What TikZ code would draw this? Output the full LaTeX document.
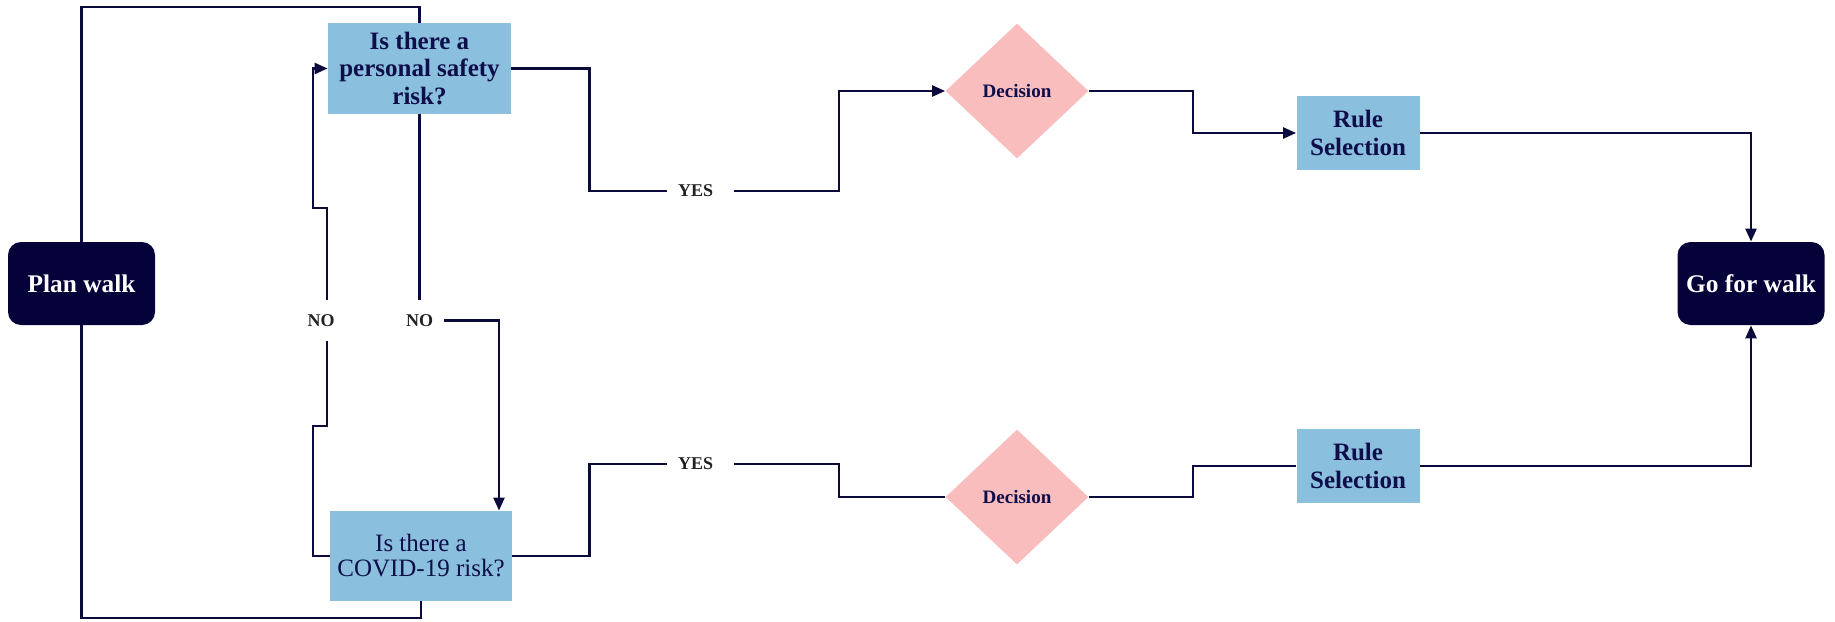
\documentclass[tikz,border=0pt]{standalone}
\usepackage{fontspec}
\setmainfont{Liberation Serif}
\usetikzlibrary{arrows.meta,shapes.geometric}

\definecolor{navy}{HTML}{05023A}
\definecolor{wirecol}{HTML}{0B0B3B}
\definecolor{boxblue}{HTML}{8ABFDD}
\definecolor{rosy}{HTML}{F9BDBD}
\definecolor{inknavy}{HTML}{0E0E4A}
\definecolor{flagink}{HTML}{222222}

\begin{document}
\begin{tikzpicture}[x=0.5pt,y=-0.5pt,
  wire/.style={draw=wirecol, line width=1.25pt},
  tip/.style={-{Triangle[length=6.5pt,width=5.5pt]}},
  terminal/.style={fill=navy, rounded corners=6.5pt, text=white,
    font=\fontsize{12.7}{14}\selectfont\bfseries,
    minimum width=73.5pt, minimum height=41.5pt, inner sep=0pt},
  question/.style={fill=boxblue, text=inknavy, align=center, inner sep=0pt},
  decision/.style={diamond, fill=rosy, text=inknavy, inner sep=0pt,
    minimum width=71.5pt, minimum height=67.5pt,
    font=\fontsize{9.5}{11}\selectfont\bfseries},
  rulebox/.style={fill=boxblue, text=inknavy, align=center, inner sep=0pt,
    minimum width=61.5pt, minimum height=37pt,
    font=\fontsize{12.5}{14}\selectfont\bfseries},
  yesflag/.style={text=flagink, font=\fontsize{9}{10}\selectfont\bfseries,
    text width=22.5pt, align=left, inner xsep=5.5pt, inner ysep=0pt},
  noflag/.style={text=flagink, font=\fontsize{9}{10}\selectfont\bfseries,
    minimum height=20.5pt, inner xsep=5.5pt, inner ysep=0pt}
]
\useasboundingbox (0,0) rectangle (1835,621);

% start and end of the walk
\node[terminal] (plan) at (81.5,283.5) {Plan walk};
\node[terminal] (go) at (1751,283.5) {Go for walk};

% the two risk questions
\node[question, minimum width=91.5pt, minimum height=45.5pt,
  font=\fontsize{12.5}{13.75}\selectfont\bfseries] (q1) at (419.5,68.5)
  {Is there a\\personal safety\\risk?};
\node[question, minimum width=91pt, minimum height=45pt,
  font=\fontsize{12.5}{12.5}\selectfont] (q2) at (421,556)
  {Is there a\\COVID-19 risk?};

% decisions and rule selection
\node[decision] (d1) at (1017,91) {Decision};
\node[decision] (d2) at (1017,497) {Decision};
\node[rulebox] (r1) at (1358,133) {Rule\\Selection};
\node[rulebox] (r2) at (1358,466) {Rule\\Selection};

% branch labels
\node[yesflag] (yes1) at (700.5,191) {YES};
\node[yesflag] (yes2) at (700.5,464) {YES};
\node[noflag] (no1) at (321,320.5) {NO};
\node[noflag] (no2) at (419.5,320.5) {NO};

% routing guides
\coordinate (loopTop) at (0,7);
\coordinate (loopBot) at (0,618);
\coordinate (split) at (589.5,0);
\coordinate (join) at (839,0);
\coordinate (merge) at (1193,0);
\coordinate (noLeft) at (313,0);
\coordinate (noStem) at (327,0);
\coordinate (jogA) at (0,208);
\coordinate (jogB) at (0,426);
\coordinate (noRight) at (499,0);

% plan walk feeds both questions
\draw[wire] (plan.north) |- (q1.north |- loopTop) -- (q1.north);
\draw[wire] (plan.south) |- (q2.south |- loopBot) -- (q2.south);

% personal safety: yes branch
\draw[wire] (q1.east) -| (split |- yes1) -- (yes1.west);
\draw[wire,tip] (yes1.east) -| (join |- d1) -- (d1.west);
\draw[wire,tip] (d1.east) -| (merge |- r1) -- (r1.west);
\draw[wire,tip] (r1.east) -| (go.north);

% covid: yes branch
\draw[wire] (q2.east) -| (split |- yes2) -- (yes2.west);
\draw[wire] (yes2.east) -| (join |- d2) -- (d2.west);
\draw[wire] (d2.east) -| (merge |- r2) -- (r2.west);
\draw[wire,tip] (r2.east) -| (go.south);

% no branches
\draw[wire] (q1.south) -- (no2.north);
\draw[wire,tip] (no2.east) -| (noRight |- q2.north);
\draw[wire] (q2.west) -| (noLeft |- jogB) -| (noStem |- no1.south);
\draw[wire,tip] (noStem |- no1.north) |- (noLeft |- jogA) |- (q1.west);
\end{tikzpicture}
\end{document}
